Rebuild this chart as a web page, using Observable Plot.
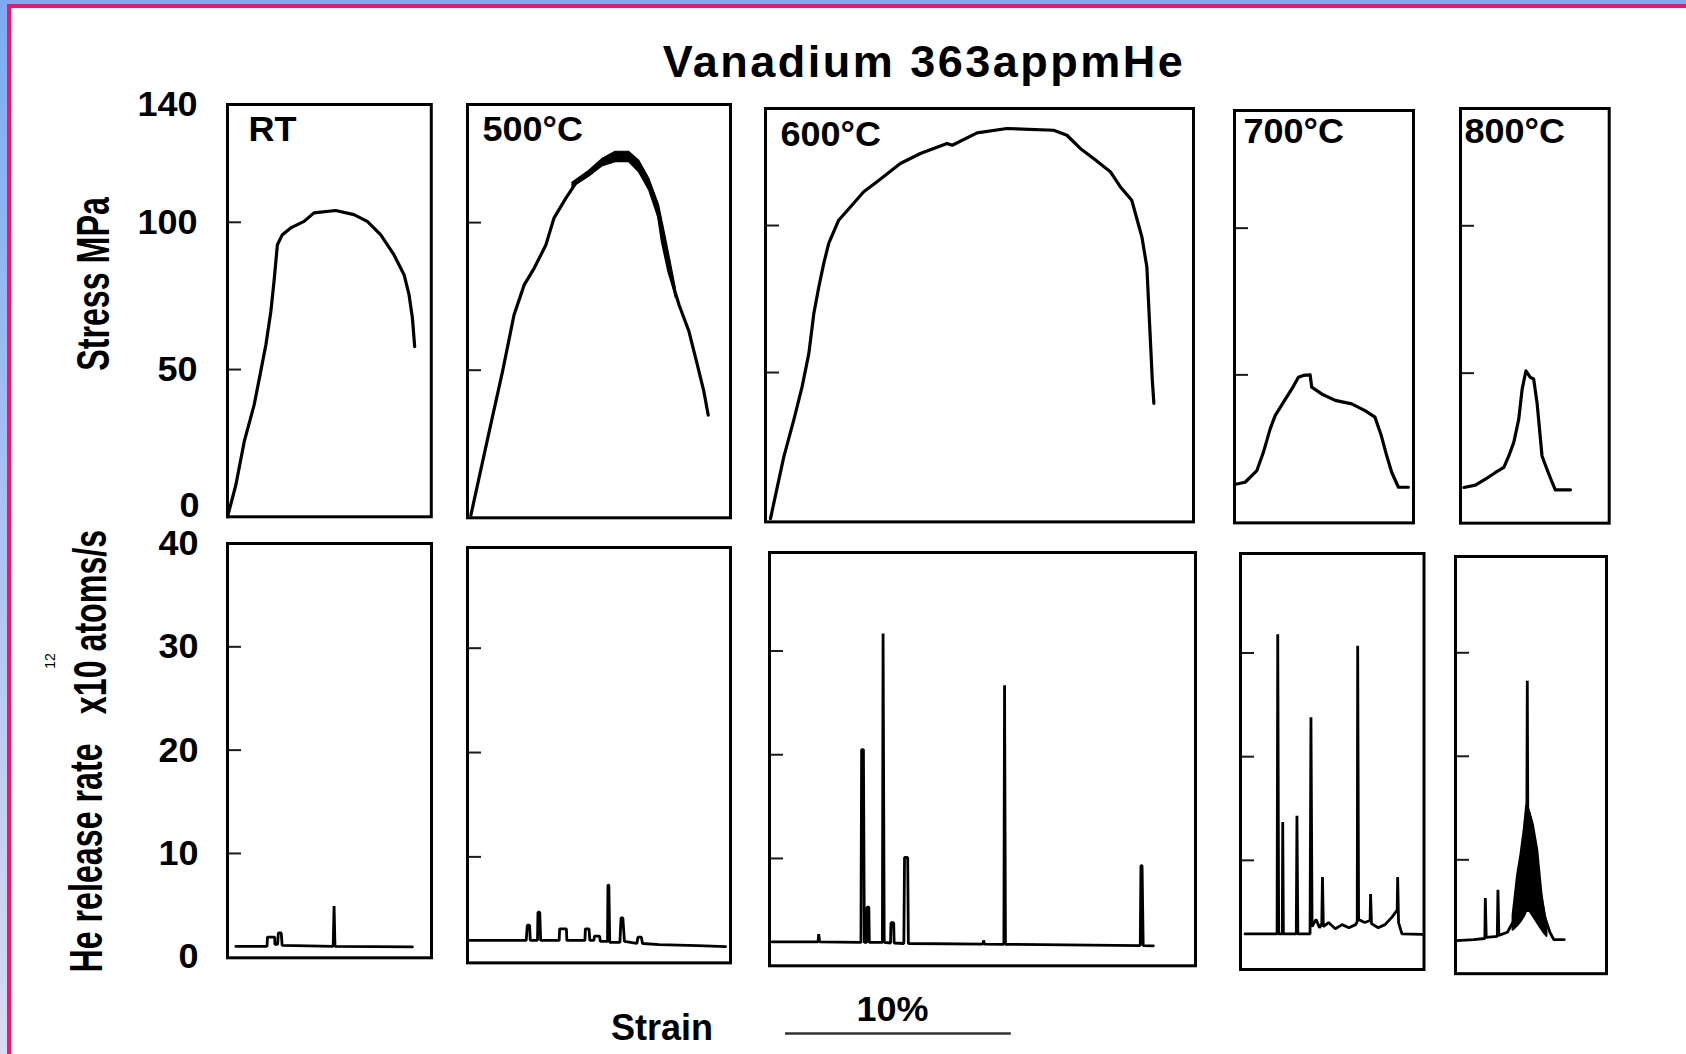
<!DOCTYPE html>
<html>
<head>
<meta charset="utf-8">
<script src="https://cdn.jsdelivr.net/npm/d3@7"></script>
<script src="https://cdn.jsdelivr.net/npm/@observablehq/plot@0.6"></script>
<style>
  html, body { margin: 0; padding: 0; background: #fff; }
  #fig {
    position: relative; width: 1686px; height: 1054px; overflow: hidden; background: #fff;
    font-family: "Liberation Sans", Arial, sans-serif; color: #000;
  }
  .abs { position: absolute; white-space: nowrap; line-height: 1; }
  .edge-top { left: 0; top: 0; width: 1686px; height: 4px; background: #7eaaf2; }
  .edge-left { left: 0; top: 0; width: 7px; height: 1054px; background: linear-gradient(#7eaaf2, #d6dcf2); }
  .line-top { left: 7px; top: 4px; width: 1679px; height: 4px; background: #f0166e; }
  .line-left { left: 7px; top: 4px; width: 4px; height: 1050px; background: #f0166e; }
  .title { left: 524px; width: 800px; top: 39px; text-align: center; font-size: 45px; font-weight: bold; letter-spacing: 2.5px; }
  .ylab { font-size: 46px; font-weight: bold; transform: translate(-50%, -50%) rotate(-90deg) scaleX(0.70); }
  .sup { font-size: 14px; transform: translate(-50%, -50%) rotate(-90deg); }
  .xlab { font-size: 36px; font-weight: bold; }
</style>
</head>
<body>
<div id="fig">
  <div class="abs edge-top"></div>
  <div class="abs edge-left"></div>
  <div class="abs line-top"></div>
  <div class="abs line-left"></div>
  <div class="abs title">Vanadium 363appmHe</div>
  <div class="abs ylab" style="left:93px; top:284px;">Stress MPa</div>
  <div class="abs ylab" style="left:86px; top:858px;">He release rate</div>
  <div class="abs ylab" style="left:90px; top:622px;">x10 atoms/s</div>
  <div class="abs sup" style="left:50px; top:661px;">12</div>
  <div class="abs xlab" style="left:611px; top:1010px;">Strain</div>
</div>
<script>
// ---------- data ----------
const panelNames = ["RT", "500°C", "600°C", "700°C", "800°C"];
const stressTickLabels = [0, 50, 100, 140];      // MPa
const stressInnerTicks = [50, 100];
const releaseTickLabels = [0, 10, 20, 30, 40];   // x10^12 atoms/s
const releaseInnerTicks = [10, 20, 30];
const scaleBar = [0, 10];                        // % strain

// stress–strain traces: [strain %, stress MPa]
const stressRT = [[0,0],[0.37,10.8],[0.74,25.5],[1.18,38],[1.47,49.3],[1.70,58.4],[1.92,69.7],[2.06,79.9],[2.21,92.4],[2.43,95.8],[2.80,98.1],[3.39,100.3],[3.83,103.2],[4.79,104],[5.6,102.6],[6.19,100.3],[6.78,95.8],[7.37,89],[7.82,82.2],[8.04,75.4],[8.19,67.5],[8.29,57.8]];
const stress500 = [[0.15,0.9],[0.96,29.2],[1.55,49.5],[2.06,68.7],[2.51,78.9],[2.95,84.5],[3.47,92.4],[3.83,101.5],[4.35,108.2],[4.79,113.3],[5.46,116.7],[5.97,120.7],[6.86,123.5],[7.6,119.5],[8.04,112.8],[8.41,104.9],[8.63,93.6],[8.92,83.4],[9.37,72.1],[9.81,63.1],[10.18,51.8],[10.47,42.7],[10.66,34.8]];
// serrated band around the 500°C maximum: [strain, upper, lower]
const band500 = [[4.65,113.5,112],[5.38,117.5,115.5],[5.97,121.5,119],[6.56,124,120.5],[7.15,124,120.5],[7.6,121,117],[8.04,115,111],[8.48,106,101],[8.78,95,89],[9.22,78,74.5]];
const stress600 = [[0.22,0.3],[0.81,21.3],[1.25,33.8],[1.62,45.1],[1.92,56.5],[2.14,70.1],[2.36,79.1],[2.58,87.1],[2.8,93.9],[3.24,101.8],[3.76,106.3],[4.35,111.5],[4.94,114.9],[5.97,121.1],[6.86,124.5],[8.04,127.9],[8.27,127.3],[9.37,131.5],[10.69,133],[12.76,132.4],[13.35,130.7],[13.94,126.2],[14.53,122.8],[15.27,118.3],[15.71,113.2],[16.22,108.6],[16.67,96.1],[16.89,85.9],[16.96,74.6],[17.06,58.7],[17.13,47.4],[17.2,39.5]];
const stress700 = [[0.1,12.8],[0.47,13.4],[0.99,17.4],[1.28,23.6],[1.58,31.6],[1.8,36.1],[2.17,40.7],[2.54,45.2],[2.83,49.2],[3.05,49.8],[3.35,50],[3.42,45.8],[3.86,43.5],[4.46,41.3],[5.19,40.1],[5.78,37.8],[6.22,35.6],[6.5,29.3],[6.74,22.5],[6.96,16.8],[7.26,11.7],[7.7,11.7]];
const stress800 = [[0.15,11.2],[0.66,12],[1.1,14],[1.55,16.3],[1.92,18],[2.14,21.9],[2.36,26.5],[2.58,34.4],[2.73,44.6],[2.9,50.8],[3.1,48.5],[3.24,48],[3.39,40],[3.5,31],[3.61,21.9],[3.83,17.4],[4.06,12.9],[4.2,10.4],[4.87,10.4]];

// helium release traces: [strain %, rate x10^12 atoms/s]
const releaseRT = [[0.37,1.0],[1.75,1.0],[1.77,1.9],[2.09,1.9],[2.1,1.2],[2.22,1.2],[2.25,2.3],[2.38,2.3],[2.42,1.1],[4.68,1.0],[4.72,4.9],[4.76,1.0],[8.19,0.95]];
const release500 = [[0.07,2.0],[2.6,2.0],[2.65,3.45],[2.75,3.45],[2.78,2.0],[3.1,2.0],[3.12,4.7],[3.2,4.7],[3.24,2.0],[4.06,2.0],[4.08,3.1],[4.38,3.1],[4.4,2.0],[5.2,2.0],[5.22,3.1],[5.38,3.1],[5.42,2.0],[5.6,2.0],[5.62,2.4],[5.85,2.4],[5.88,1.9],[6.2,1.9],[6.22,7.3],[6.26,7.3],[6.3,1.8],[6.75,1.8],[6.8,4.15],[6.88,4.15],[6.95,1.9],[7.5,1.7],[7.55,2.3],[7.7,2.3],[7.75,1.7],[8.5,1.6],[10.2,1.5],[11.43,1.4]];
const release600 = [[0.12,1.95],[2.15,1.95],[2.18,2.7],[2.22,1.95],[4.05,1.9],[4.08,20.5],[4.16,20.5],[4.2,1.9],[4.3,1.9],[4.32,5.3],[4.4,5.3],[4.42,1.9],[5.0,1.9],[5.03,31.7],[5.08,1.9],[5.36,1.85],[5.38,3.8],[5.5,3.8],[5.52,1.85],[5.95,1.8],[5.98,10.1],[6.12,10.1],[6.15,1.8],[9.45,1.74],[9.48,2.1],[9.52,1.74],[10.38,1.72],[10.41,26.7],[10.45,1.72],[16.42,1.6],[16.45,9.3],[16.5,9.3],[16.55,1.6],[17.0,1.58]];
const release700 = [[0.2,2.9],[1.62,2.9],[1.65,31.8],[1.69,2.9],[1.85,2.9],[1.87,13.7],[1.9,2.9],[2.47,2.9],[2.5,14.3],[2.54,2.9],[3.08,2.9],[3.12,23.8],[3.17,3.6],[3.35,4.3],[3.5,3.5],[3.6,3.9],[3.63,8.4],[3.67,3.6],[3.9,4.0],[4.2,3.4],[4.5,3.8],[4.8,3.5],[5.1,3.8],[5.17,4.1],[5.19,30.7],[5.23,4.3],[5.5,4.0],[5.74,4.2],[5.76,6.75],[5.8,3.9],[6.1,3.5],[6.4,3.8],[6.7,4.5],[6.94,5.2],[6.96,8.4],[7.0,4.0],[7.15,2.9],[8.05,2.85]];
const release800 = [[0.05,2.2],[0.8,2.3],[1.3,2.4],[1.32,6.3],[1.36,2.5],[1.85,2.6],[1.88,7.1],[1.92,2.7],[2.3,3.0],[2.55,4.0],[2.8,6.0],[3.0,9.5],[3.16,15.0],[3.18,27.3],[3.2,15.0],[3.4,13.5],[3.6,11.0],[3.8,6.5],[3.95,4.5],[4.18,3.0],[4.35,2.3],[4.82,2.3]];
// dense burst at 800°C: [strain, lower, upper]
const burst800 = [[2.55,3.2,4.6],[2.75,3.6,8.5],[2.9,4.0,10.5],[3.05,4.5,13.0],[3.15,5.0,15.2],[3.3,5.0,14.5],[3.45,4.5,12.8],[3.6,4.0,10.5],[3.75,3.5,7.5],[3.9,3.0,5.5],[4.05,2.6,3.8]];

// ---------- layout (frame boxes in page pixels) ----------
const pxPerStrain = 22.58; // one percent of strain
const stressLayout = [
  {box: [226.7, 104, 430.5, 516.3], y: [0, 140],       label: [21, 11]},
  {box: [467, 104, 730, 517.3],     y: [0, 140],       label: [15, 11]},
  {box: [765, 108.3, 1193, 521.7],  y: [-0.8, 139.8],  label: [15, 12]},
  {box: [1234, 110.3, 1413, 522.7], y: [-0.45, 140.1], label: [9, 7]},
  {box: [1460, 108, 1608.7, 522.7], y: [-0.9, 139.8],  label: [4, 9]}
];
const releaseLayout = [
  {box: [226.7, 543, 430.7, 957.3], y: [-0.1, 40]},
  {box: [467, 547.3, 730, 962.7],   y: [-0.16, 39.65]},
  {box: [769, 551.7, 1195, 965],    y: [-0.35, 39.5]},
  {box: [1239.5, 553, 1423, 969],   y: [-0.53, 39.6]},
  {box: [1455, 555.8, 1606, 973],   y: [-1.0, 39.3]}
];

const FONT = '"Liberation Sans", Arial, sans-serif';
const fig = document.getElementById("fig");
const px = d => d[0], py = d => d[1];

function place(chart, left, top) {
  chart.style.position = "absolute";
  chart.style.left = left + "px";
  chart.style.top = top + "px";
  chart.style.maxWidth = "none";
  fig.appendChild(chart);
}

function panel(layout, innerTicks, marks, margin = {}) {
  const m = {top: 4, right: 4, bottom: 4, left: 4, ...margin};
  const [x0, y0, x1, y1] = layout.box;
  const w = x1 - x0, h = y1 - y0;
  const chart = Plot.plot({
    width: w + m.left + m.right,
    height: h + m.top + m.bottom,
    marginTop: m.top, marginRight: m.right, marginBottom: m.bottom, marginLeft: m.left,
    x: {domain: [0, w / pxPerStrain], axis: null},
    y: {domain: layout.y, axis: null},
    style: {background: "transparent", fontFamily: FONT, color: "#000", overflow: "visible"},
    marks: [
      Plot.ruleY(innerTicks, {stroke: "#1a1a1a", strokeWidth: 2, insetRight: w - 14}),
      ...marks,
      Plot.frame({stroke: "#000", strokeWidth: 3})
    ]
  });
  place(chart, x0 - m.left, y0 - m.top);
}

const tickText = {anchor: "left", tickSize: 0, fontSize: 36, fontWeight: "bold", label: null};
const labelMark = (name, [dx, dy]) => Plot.text([name], {
  text: d => d, frameAnchor: "top-left", textAnchor: "start", lineAnchor: "top",
  dx, dy, fontSize: 36, fontWeight: "bold"
});

// ---------- top row: stress vs strain ----------
const stressSeries = [stressRT, stress500, stress600, stress700, stress800];
stressSeries.forEach((series, i) => {
  const L = stressLayout[i];
  const marks = [];
  if (i === 1) marks.push(Plot.areaY(band500, {x: d => d[0], y1: d => d[2], y2: d => d[1], fill: "#000", stroke: "#000", strokeWidth: 1.2}));
  marks.push(Plot.line(series, {x: px, y: py, stroke: "#000", strokeWidth: 3.2, strokeLinejoin: "round"}));
  marks.push(labelMark(panelNames[i], L.label));
  if (i === 0) {
    marks.push(Plot.axisY(stressTickLabels.filter(v => v !== 0), {...tickText, tickPadding: 30}));
    marks.push(Plot.axisY(stressTickLabels.filter(v => v === 0), {...tickText, tickPadding: 28, dy: -11}));
  }
  panel(L, stressInnerTicks, marks, i === 0 ? {left: 110, top: 24, bottom: 24} : {});
});

// ---------- bottom row: He release rate vs strain ----------
const releaseSeries = [releaseRT, release500, release600, release700, release800];
releaseSeries.forEach((series, i) => {
  const L = releaseLayout[i];
  const marks = [];
  if (i === 4) marks.push(Plot.areaY(burst800, {x: d => d[0], y1: d => d[1], y2: d => d[2], fill: "#000", stroke: "#000", strokeWidth: 2}));
  marks.push(Plot.line(series, {x: px, y: py, stroke: "#000", strokeWidth: 2.8, strokeLinejoin: "miter"}));
  if (i === 0) marks.push(Plot.axisY(releaseTickLabels, {...tickText, tickPadding: 29}));
  panel(L, releaseInnerTicks, marks, i === 0 ? {left: 110, top: 24, bottom: 24} : {});
});

// ---------- strain scale bar ----------
{
  const w = (scaleBar[1] - scaleBar[0]) * pxPerStrain;
  const m = 4, h = 44;
  const chart = Plot.plot({
    width: w + 2 * m, height: h + 2 * m,
    margin: m,
    x: {domain: scaleBar, axis: null},
    y: {domain: [0, 1], axis: null},
    style: {background: "transparent", fontFamily: FONT, color: "#000", overflow: "visible"},
    marks: [
      Plot.ruleY([scaleBar], {y: 0, x1: d => d[0], x2: d => d[1], stroke: "#333", strokeWidth: 2.5}),
      Plot.text([`${scaleBar[1] - scaleBar[0]}%`], {
        text: d => d, x: (scaleBar[0] + scaleBar[1]) / 2, y: 0,
        dx: -6, dy: -12, lineAnchor: "bottom", fontSize: 36, fontWeight: "bold"
      })
    ]
  });
  place(chart, 784.6 - m, 1032.6 - h - m);
}
</script>
</body>
</html>
